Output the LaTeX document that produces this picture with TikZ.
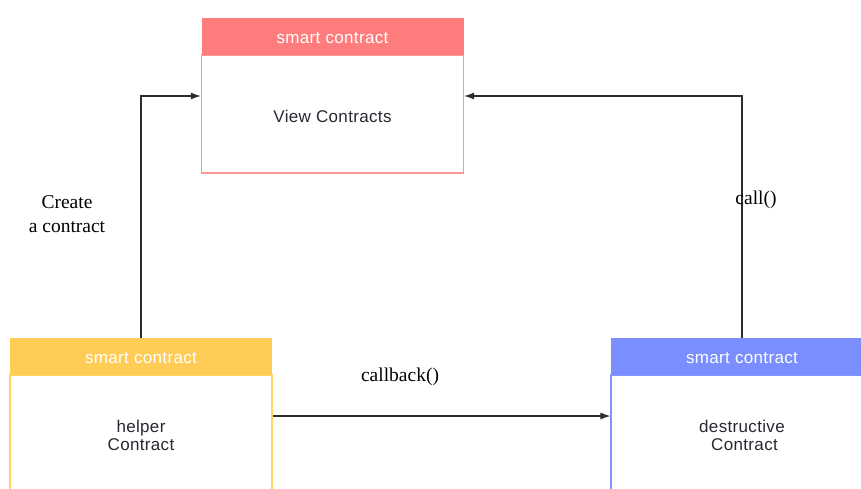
\documentclass[tikz,border=0pt]{standalone}
\usepackage{fontspec}
\setmainfont{Liberation Serif}
\newfontfamily\boxfont[LetterSpace=2]{Liberation Sans}
\usetikzlibrary{arrows.meta}

\definecolor{redhead}{RGB}{255,124,124}
\definecolor{redline}{RGB}{255,150,150}
\definecolor{yellowhead}{RGB}{255,204,85}
\definecolor{yellowline}{RGB}{255,212,100}
\definecolor{bluehead}{RGB}{122,142,255}
\definecolor{blueline}{RGB}{128,150,255}
\definecolor{inktext}{RGB}{40,40,50}
\definecolor{wire}{RGB}{45,45,45}

% lower a text line without changing the size of its box
\newcommand{\lowered}[1]{\raisebox{-2pt}[\height][\depth]{#1}}

\tikzset{
  head/.style={rectangle, minimum width=262pt, minimum height=37pt, inner sep=0pt,
    text=white, font=\boxfont\fontsize{17}{18}\selectfont},
  body/.style={rectangle, minimum width=262pt, inner sep=0pt, fill=white, line width=1.2pt,
    text=inktext, align=center, font=\boxfont\fontsize{17}{18}\selectfont},
  label/.style={inner sep=0pt, align=center, text=black, font=\fontsize{19.5}{24}\selectfont},
  link/.style={draw=wire, line width=1.1pt, -{Latex[length=10pt,width=7pt]}}
}

\begin{document}
\begin{tikzpicture}[x=1pt,y=1pt]
  \useasboundingbox (0,0) rectangle (861,-489);
  \clip (0,0) rectangle (861,-489);

  % viewer contract (top)
  \node[body, draw=redline, minimum height=118pt] (vbody) at (332.5,-114) {\lowered{View Contracts}};
  \node[head, fill=redhead] (vhead) at (332.5,-36.5) {\lowered{smart contract}};

  % helper contract (bottom left)
  \node[body, draw=yellowline, minimum height=120pt] (hbody) at (141,-435) {helper\\Contract};
  \node[head, fill=yellowhead] (hhead) at (141,-356.5) {\lowered{smart contract}};

  % destructive contract (bottom right)
  \node[body, draw=blueline, minimum height=120pt] (dbody) at (742,-435) {destructive\\\ Contract};
  \node[head, fill=bluehead] (dhead) at (742,-356.5) {\lowered{smart contract}};

  % connectors
  \draw[link] (hhead.north) |- ([yshift=18pt]vbody.west);
  \draw[link] (dhead.north) |- ([yshift=18pt]vbody.east);
  \draw[link] ([yshift=19pt]hbody.east) -- ([yshift=19pt]dbody.west);

  % connector labels
  \node[label] (create) at (67,-214) {Create\\a contract};
  \node[label] (call) at (756,-200) {call()};
  \node[label] (callback) at (400,-377) {callback()};
\end{tikzpicture}
\end{document}
